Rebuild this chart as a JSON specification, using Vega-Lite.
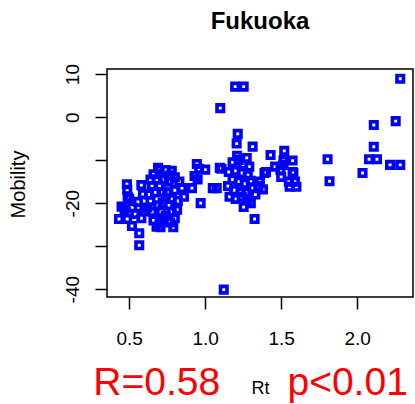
{
  "$schema": "https://vega.github.io/schema/vega-lite/v6.json",
  "autosize": "none",
  "padding": {"left": 107, "top": 69, "right": 2, "bottom": 107},
  "width": 306,
  "height": 228,
  "background": "white",
  "config": {"view": {"stroke": "black", "strokeWidth": 1.5}},
  "title": {"text": "Fukuoka", "font": "Liberation Sans", "fontSize": 24, "fontWeight": "bold", "anchor": "middle", "baseline": "alphabetic", "offset": 11, "color": "black"},
  "data": {"values": [
    {"rt": 0.485, "mobility": -15.6}, {"rt": 0.487, "mobility": -16.9}, {"rt": 0.49, "mobility": -18.5},
    {"rt": 0.45, "mobility": -20.8}, {"rt": 0.433, "mobility": -23.7}, {"rt": 0.487, "mobility": -23.7},
    {"rt": 0.518, "mobility": -25.3}, {"rt": 0.566, "mobility": -27.0}, {"rt": 0.566, "mobility": -29.8},
    {"rt": 0.58, "mobility": -15.8}, {"rt": 0.59, "mobility": -17.9}, {"rt": 0.557, "mobility": -19.7},
    {"rt": 0.6, "mobility": -21.8}, {"rt": 0.58, "mobility": -23.5}, {"rt": 0.52, "mobility": -21.0},
    {"rt": 0.5, "mobility": -19.0}, {"rt": 0.54, "mobility": -22.5}, {"rt": 0.47, "mobility": -21.5},
    {"rt": 0.64, "mobility": -19.5}, {"rt": 0.65, "mobility": -22.0}, {"rt": 0.66, "mobility": -24.0},
    {"rt": 0.7, "mobility": -24.6}, {"rt": 0.706, "mobility": -25.6}, {"rt": 0.79, "mobility": -25.6},
    {"rt": 0.8, "mobility": -23.5}, {"rt": 0.78, "mobility": -22.0}, {"rt": 0.76, "mobility": -20.5},
    {"rt": 0.74, "mobility": -19.0}, {"rt": 0.72, "mobility": -17.5}, {"rt": 0.7, "mobility": -16.0},
    {"rt": 0.68, "mobility": -14.5}, {"rt": 0.66, "mobility": -13.3}, {"rt": 0.7, "mobility": -12.3},
    {"rt": 0.74, "mobility": -12.3}, {"rt": 0.78, "mobility": -12.5}, {"rt": 0.8, "mobility": -14.0},
    {"rt": 0.76, "mobility": -15.0}, {"rt": 0.73, "mobility": -14.5}, {"rt": 0.67, "mobility": -17.5},
    {"rt": 0.65, "mobility": -16.0}, {"rt": 0.69, "mobility": -20.5}, {"rt": 0.71, "mobility": -22.0},
    {"rt": 0.75, "mobility": -17.5}, {"rt": 0.8, "mobility": -17.0}, {"rt": 0.82, "mobility": -19.5},
    {"rt": 0.78, "mobility": -19.0}, {"rt": 0.74, "mobility": -23.0}, {"rt": 0.68, "mobility": -25.5},
    {"rt": 0.847, "mobility": -16.5}, {"rt": 0.63, "mobility": -18.0}, {"rt": 0.815, "mobility": -21.5},
    {"rt": 0.69, "mobility": -11.8}, {"rt": 0.62, "mobility": -21.0}, {"rt": 0.72, "mobility": -20.0},
    {"rt": 0.77, "mobility": -13.5}, {"rt": 0.83, "mobility": -15.0}, {"rt": 0.86, "mobility": -18.5},
    {"rt": 0.64, "mobility": -14.5}, {"rt": 0.77, "mobility": -24.5}, {"rt": 0.72, "mobility": -23.8},
    {"rt": 0.913, "mobility": -16.5}, {"rt": 0.945, "mobility": -10.9}, {"rt": 1.0, "mobility": -12.2},
    {"rt": 0.93, "mobility": -13.7}, {"rt": 0.97, "mobility": -20.0}, {"rt": 0.95, "mobility": -14.5},
    {"rt": 0.96, "mobility": -12.0},
    {"rt": 1.076, "mobility": -16.5}, {"rt": 1.096, "mobility": -11.8}, {"rt": 1.099, "mobility": 2.1},
    {"rt": 1.197, "mobility": 7.1}, {"rt": 1.253, "mobility": 7.1}, {"rt": 1.122, "mobility": -40.1},
    {"rt": 1.214, "mobility": -3.9}, {"rt": 1.207, "mobility": -6.15}, {"rt": 1.312, "mobility": -6.85},
    {"rt": 1.273, "mobility": -9.5}, {"rt": 1.107, "mobility": -12.0}, {"rt": 1.155, "mobility": -12.75},
    {"rt": 1.05, "mobility": -16.5}, {"rt": 1.2, "mobility": -19.0}, {"rt": 1.276, "mobility": -19.3},
    {"rt": 1.253, "mobility": -20.9}, {"rt": 1.325, "mobility": -23.7}, {"rt": 1.235, "mobility": -17.5},
    {"rt": 1.18, "mobility": -10.5}, {"rt": 1.22, "mobility": -10.0}, {"rt": 1.25, "mobility": -11.0},
    {"rt": 1.29, "mobility": -11.5}, {"rt": 1.2, "mobility": -12.5}, {"rt": 1.24, "mobility": -13.0},
    {"rt": 1.28, "mobility": -13.5}, {"rt": 1.18, "mobility": -14.5}, {"rt": 1.22, "mobility": -15.0},
    {"rt": 1.26, "mobility": -15.5}, {"rt": 1.3, "mobility": -14.8}, {"rt": 1.15, "mobility": -16.0},
    {"rt": 1.19, "mobility": -17.0}, {"rt": 1.27, "mobility": -17.5}, {"rt": 1.31, "mobility": -16.5},
    {"rt": 1.35, "mobility": -16.0}, {"rt": 1.33, "mobility": -18.0}, {"rt": 1.24, "mobility": -18.5},
    {"rt": 1.16, "mobility": -18.5}, {"rt": 1.3, "mobility": -20.0}, {"rt": 1.21, "mobility": -9.0},
    {"rt": 1.36, "mobility": -15.0}, {"rt": 1.38, "mobility": -16.8},
    {"rt": 1.4, "mobility": -12.75}, {"rt": 1.43, "mobility": -8.8}, {"rt": 1.52, "mobility": -7.85},
    {"rt": 1.515, "mobility": -10.1}, {"rt": 1.575, "mobility": -10.1}, {"rt": 1.515, "mobility": -11.1},
    {"rt": 1.495, "mobility": -12.3}, {"rt": 1.575, "mobility": -12.75}, {"rt": 1.5, "mobility": -13.9},
    {"rt": 1.55, "mobility": -15.0}, {"rt": 1.555, "mobility": -16.2}, {"rt": 1.6, "mobility": -16.2},
    {"rt": 1.58, "mobility": -13.0}, {"rt": 1.39, "mobility": -13.0}, {"rt": 1.46, "mobility": -11.5},
    {"rt": 1.59, "mobility": -15.0},
    {"rt": 1.805, "mobility": -9.8}, {"rt": 1.818, "mobility": -14.9}, {"rt": 2.035, "mobility": -13.0},
    {"rt": 2.078, "mobility": -9.8}, {"rt": 2.13, "mobility": -9.8}, {"rt": 2.109, "mobility": -6.9},
    {"rt": 2.109, "mobility": -1.84}, {"rt": 2.253, "mobility": -0.93}, {"rt": 2.283, "mobility": 8.93},
    {"rt": 2.216, "mobility": -11.1}, {"rt": 2.283, "mobility": -11.1}
  ]},
  "layer": [
    {
      "mark": {"type": "point", "shape": "square", "filled": false, "size": 42, "strokeWidth": 3.6, "color": "#0000FF", "opacity": 1},
      "encoding": {
        "x": {"field": "rt", "type": "quantitative", "scale": {"domain": [0.354, 2.367], "nice": false, "zero": false},
          "axis": {"values": [0.5, 1, 1.5, 2], "format": ".1f", "grid": false, "domain": false, "tickSize": 12, "tickWidth": 1.5, "tickColor": "black",
            "labelFont": "Liberation Sans", "labelFontSize": 19, "labelColor": "black", "labelBaseline": "alphabetic", "labelPadding": 35, "labelFlush": false, "labelOverlap": false,
            "title": "Rt", "titleFont": "Liberation Sans", "titleFontSize": 18, "titleFontWeight": "normal", "titleColor": "black", "titleX": 153, "titleY": 96, "titleBaseline": "alphabetic", "titleAlign": "center"}},
        "y": {"field": "mobility", "type": "quantitative", "scale": {"domain": [-41.82, 11.19], "nice": false, "zero": false},
          "axis": {"values": [-40, -30, -20, -10, 0, 10], "grid": false, "domain": false, "tickSize": 12, "tickWidth": 1.5, "tickColor": "black",
            "labelFont": "Liberation Sans", "labelFontSize": 19, "labelColor": "black", "labelAngle": 270, "labelAlign": "center", "labelBaseline": "alphabetic", "labelPadding": 17, "labelOverlap": false, "labelFlush": false,
            "labelExpr": "datum.value == -10 || datum.value == -30 ? '' : '' + datum.value",
            "title": "Mobility", "titleFont": "Liberation Sans", "titleFontSize": 20, "titleFontWeight": "normal", "titleColor": "black", "titleAngle": 270, "titleX": -83, "titleY": 115, "titleAlign": "center", "titleBaseline": "alphabetic"}}
      }
    },
    {
      "data": {"values": [{"note": "R=0.58"}]},
      "mark": {"type": "text", "font": "Liberation Sans", "fontSize": 39, "color": "#FF0000", "align": "center", "baseline": "alphabetic"},
      "encoding": {"text": {"field": "note"}, "x": {"datum": 0.681}, "y": {"datum": -64.7}}
    },
    {
      "data": {"values": [{"note": "p<0.01"}]},
      "mark": {"type": "text", "font": "Liberation Sans", "fontSize": 39, "color": "#FF0000", "align": "center", "baseline": "alphabetic"},
      "encoding": {"text": {"field": "note"}, "x": {"datum": 1.937}, "y": {"datum": -64.7}}
    }
  ]
}
